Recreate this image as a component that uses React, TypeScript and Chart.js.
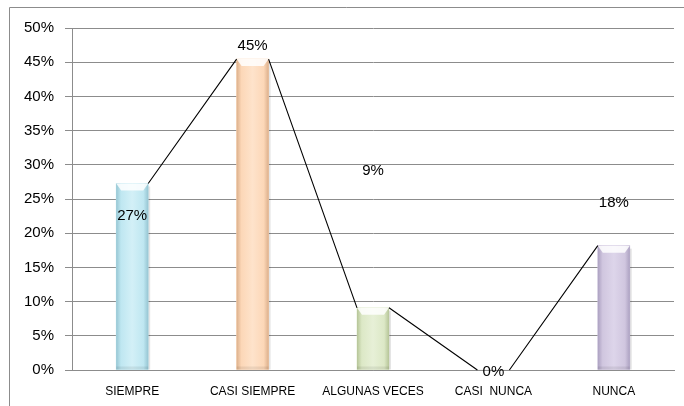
import React, { useEffect, useRef } from "react";
import { Chart, registerables } from "chart.js";

Chart.register(...registerables);

const categories = ["SIEMPRE", "CASI SIEMPRE", "ALGUNAS VECES", "CASI  NUNCA", "NUNCA"];
const values = [0.2727, 0.4545, 0.0909, 0, 0.1818];
const dataLabels = ["27%", "45%", "9%", "0%", "18%"];
const yTicks = [0, 0.05, 0.1, 0.15, 0.2, 0.25, 0.3, 0.35, 0.4, 0.45, 0.5];

const barColors = ["#bfe7f1", "#fcd7b7", "#dce8c6", "#d9d9d9", "#d0c6df"];
const barLights = ["#d3f0f7", "#fee3cb", "#e7f0d7", "#e6e6e6", "#ddd5ea"];
const barEdges = ["#97c6d3", "#dcb08c", "#b6c598", "#aaaaaa", "#aca1c1"];
const labelOffsets = [32, -13, -137, 2, -43];

const FONT = "'Liberation Sans', Arial, sans-serif";

const framePlugin = {
  id: "frame",
  beforeDraw(chart: any) {
    const ctx = chart.ctx;
    ctx.save();
    ctx.fillStyle = "#ffffff";
    ctx.fillRect(0, 0, chart.width, chart.height);
    ctx.strokeStyle = "#8c8c8c";
    ctx.lineWidth = 1;
    ctx.beginPath();
    ctx.moveTo(9.5, chart.height);
    ctx.lineTo(9.5, 7.5);
    ctx.lineTo(chart.width, 7.5);
    ctx.stroke();
    ctx.restore();
  },
};

// Excel-style "series lines": connect right-top corner of each bar to left-top corner of the next
const seriesLinesPlugin = {
  id: "seriesLines",
  afterDatasetDraw(chart: any, args: any) {
    if (args.meta.type !== "bar") return;
    const ctx = chart.ctx;
    const els = args.meta.data;
    ctx.save();
    ctx.strokeStyle = "#000000";
    ctx.lineWidth = 1.1;
    ctx.beginPath();
    for (let i = 0; i < els.length - 1; i++) {
      const a = els[i];
      const b = els[i + 1];
      ctx.moveTo(a.x + a.width / 2, a.y);
      ctx.lineTo(b.x - b.width / 2, b.y);
    }
    ctx.stroke();
    ctx.restore();
  },
};

const barShadePlugin = {
  id: "barShade",
  afterDatasetDraw(chart: any, args: any) {
    if (args.meta.type !== "bar") return;
    const ctx = chart.ctx;
    ctx.save();
    args.meta.data.forEach((el: any, i: number) => {
      const w = el.width;
      const left = el.x - w / 2;
      const right = el.x + w / 2;
      const top = Math.min(el.y, el.base);
      const bottom = Math.max(el.y, el.base);
      const h = bottom - top;
      if (h < 1) return;
      ctx.fillStyle = "rgba(0,0,0,0.10)";
      ctx.fillRect(right, top + 3, 2, h - 3);
      const g = ctx.createLinearGradient(left, 0, right, 0);
      g.addColorStop(0, barEdges[i]);
      g.addColorStop(0.15, barColors[i]);
      g.addColorStop(0.5, barLights[i]);
      g.addColorStop(0.85, barColors[i]);
      g.addColorStop(1, barEdges[i]);
      ctx.fillStyle = g;
      ctx.fillRect(left, top, w, h);
      ctx.fillStyle = "rgba(0,0,0,0.07)";
      ctx.fillRect(left, bottom - 3, w, 3);
      const bev = Math.min(7, h);
      ctx.fillStyle = "rgba(255,255,255,0.85)";
      ctx.beginPath();
      ctx.moveTo(left, top);
      ctx.lineTo(right, top);
      ctx.lineTo(right - 5, top + bev);
      ctx.lineTo(left + 5, top + bev);
      ctx.closePath();
      ctx.fill();
    });
    ctx.restore();
  },
};

const labelPlugin = {
  id: "valueLabels",
  afterDatasetsDraw(chart: any) {
    const meta = chart.getDatasetMeta(0);
    const ctx = chart.ctx;
    ctx.save();
    ctx.font = `15px ${FONT}`;
    ctx.fillStyle = "#000000";
    ctx.textAlign = "center";
    ctx.textBaseline = "middle";
    meta.data.forEach((el: any, i: number) => {
      ctx.fillText(dataLabels[i], el.x, el.y + labelOffsets[i]);
    });
    ctx.restore();
  },
};

export default function App() {
  const canvasRef = useRef<HTMLCanvasElement>(null);

  useEffect(() => {
    if (!canvasRef.current) return;
    const chart = new Chart(canvasRef.current, {
      type: "bar",
      data: {
        labels: categories,
        datasets: [
          {
            type: "bar",
            data: values,
            backgroundColor: barColors,
            borderWidth: 0,
            barThickness: 32,
          },
        ] as any,
      },
      options: {
        responsive: false,
        animation: false,
        devicePixelRatio: 1,
        layout: { padding: { top: 28, right: 10, left: 0, bottom: 0 } },
        plugins: {
          legend: { display: false },
          tooltip: { enabled: false },
        },
        scales: {
          x: {
            grid: { display: false, drawTicks: false },
            border: { display: true, color: "#8c8c8c", width: 1 },
            ticks: {
              font: { family: FONT, size: 12 },
              color: "#000000",
              padding: 14,
              maxRotation: 0,
            },
            afterFit: (s: any) => {
              s.height = 36;
            },
          },
          y: {
            min: 0,
            max: 0.5,
            afterBuildTicks: (s: any) => {
              s.ticks = yTicks.map((v) => ({ value: v }));
            },
            grid: { color: "#8c8c8c", lineWidth: 1, tickLength: 7 },
            border: { display: true, color: "#8c8c8c", width: 1 },
            ticks: {
              font: { family: FONT, size: 15 },
              color: "#000000",
              padding: 11,
              callback: (v: any) => `${Math.round(Number(v) * 100)}%`,
            },
            afterFit: (s: any) => {
              s.width = 72;
            },
          },
        },
      },
      plugins: [framePlugin, barShadePlugin, seriesLinesPlugin, labelPlugin],
    });
    return () => chart.destroy();
  }, []);

  return (
    <div style={{ position: "absolute", left: 0, top: 0, width: 684, height: 406 }}>
      <canvas ref={canvasRef} width={684} height={406} style={{ display: "block" }} />
    </div>
  );
}
